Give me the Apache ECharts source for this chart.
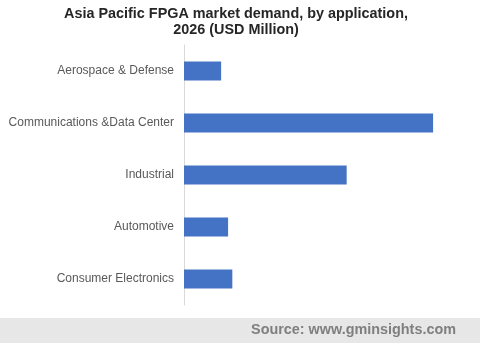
<!DOCTYPE html>
<html><head><meta charset="utf-8">
<script src="https://cdn.jsdelivr.net/npm/echarts@6/dist/echarts.min.js"></script>
<style>html,body{margin:0;padding:0;background:#fff}#c{width:480px;height:343px}</style>
</head><body><div id="c"></div>
<script>
const categories = ["Aerospace & Defense","Communications &Data Center","Industrial","Automotive","Consumer Electronics"];
const values = [149, 1000, 653, 177, 194];
const chart = echarts.init(document.getElementById('c'), null, {renderer:'canvas'});
chart.setOption({
  animation:false,
  backgroundColor:'#fff',
  title:{
    text:'Asia Pacific FPGA market demand, by application,\n2026 (USD Million)',
    left:231, top:1, textAlign:'center',
    textStyle:{fontFamily:'Liberation Sans, Arial', fontWeight:'bold', fontSize:14.4, color:'#262626', lineHeight:16}
  },
  graphic:[
    {type:'rect', shape:{x:0,y:318,width:480,height:25}, style:{fill:'#e7e7e7'}, silent:true},
    {type:'text', right:24, top:323, style:{text:'Source: www.gminsights.com', fontFamily:'Liberation Sans, Arial', fontWeight:'bold', fontSize:14.4, fill:'#7f7f7f'}}
  ],
  grid:{left:184, top:45, bottom:38, width:274, containLabel:false},
  xAxis:{type:'value', min:0, max:1100, show:false},
  yAxis:{type:'category', data:categories, inverse:true,
    axisLine:{show:true, lineStyle:{color:'#d9d9d9', width:1}},
    axisTick:{show:false},
    axisLabel:{fontFamily:'Liberation Sans, Arial', fontSize:12, color:'#595959', margin:10}
  },
  series:[{type:'bar', data:values, barWidth:19, itemStyle:{color:'#4472c4'}}]
});
</script></body></html>
